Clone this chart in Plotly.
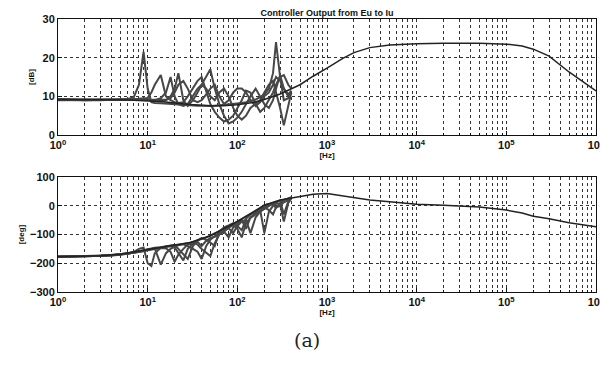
import plotly.graph_objects as go

# ---------------- data ----------------
f_model = [1, 2, 3, 5, 7, 10, 15, 20, 30, 50, 70, 100, 150, 200, 300, 500, 700,
           1e3, 1.5e3, 2e3, 3e3, 5e3, 1e4, 2e4, 5e4, 1e5, 1.5e5, 2e5, 3e5, 5e5, 7e5, 1e6]
mag_model = [9.2, 9.2, 9.2, 9.1, 9.0, 8.9, 8.6, 8.3, 7.9, 7.6, 7.6, 7.8, 8.4, 9.2, 10.6,
             13.0, 15.2, 17.3, 19.8, 21.3, 22.6, 23.3, 23.6, 23.7, 23.7, 23.5, 23.0, 22.2,
             20.4, 16.3, 13.9, 11.4]
phase_model = [-177, -176, -174, -169, -162, -152, -143, -137, -128, -104, -80, -55, -22,
               2, 20, 33, 40, 43, 35, 28, 20, 14, 5, 2, -4, -15, -25, -36, -45, -59, -66, -73]

f_meas = [1, 1.5, 2, 3, 4, 5, 6, 7, 8, 9, 10, 11, 12, 14, 16, 18, 20, 22, 25, 28,
          32, 36, 40, 45, 50, 56, 63, 71, 80, 90, 100, 112, 125, 140, 160, 180, 200,
          225, 250, 270, 300, 330, 370, 400]

mag_meas = [
    [9.3, 9.1, 9.0, 9.0, 9.1, 9.2, 9.3, 9.8, 13, 21.5, 12, 8.5, 8.3, 8.2, 8.1, 8.0, 7.9, 7.8,
     7.8, 7.7, 7.6, 7.6, 7.6, 7.5, 7.5, 7.6, 7.7, 7.8, 7.9, 8.0, 8.1, 8.3, 8.5, 8.8, 9.2, 9.8,
     10.5, 12, 16, 24, 15, 9, 9.5, 11],
    [9.2, 9.2, 9.1, 9.1, 9.2, 9.2, 9.3, 9.3, 9.4, 9.5, 9.6, 11, 13, 15.5, 10, 9, 8.5, 8.3, 8.5,
     10, 12, 14, 15, 11, 8, 6, 4.5, 3.5, 4, 5, 7, 9, 11.5, 11, 8, 6, 7, 9, 11, 13, 15, 15.5, 13, 12],
    [9.1, 9.0, 9.0, 9.1, 9.1, 9.2, 9.2, 9.3, 9.3, 9.4, 9.3, 9.0, 9.0, 9.5, 11, 15, 10, 8, 7.5,
     8, 10, 12, 13, 15, 17, 12, 8, 5, 3, 3.5, 4.5, 6, 8, 10, 12, 10, 8, 7, 9, 12, 15.5, 12, 10, 11],
    [9.0, 9.0, 9.0, 9.0, 9.0, 9.1, 9.1, 9.1, 9.2, 9.2, 9.1, 9.0, 9.0, 8.8, 9, 10, 12, 16, 9, 7.5,
     9, 11, 13, 12, 10, 9, 11, 12, 10, 7, 5, 4, 5, 7, 8, 9, 11, 13, 14, 11, 7, 2.5, 8, 11],
    [9.2, 9.1, 9.1, 9.1, 9.1, 9.1, 9.1, 9.1, 9.1, 9.1, 9.1, 9.1, 9.1, 9.1, 9.1, 9.5, 11, 13, 14,
     12, 9, 8.5, 9, 10.5, 12, 13, 10, 8, 9, 11, 12, 12, 11, 9, 7.5, 8.5, 10, 11, 13, 15, 14, 12,
     10.5, 11.5],
]

phase_meas = [
    [-177, -177, -176, -174, -172, -169, -166, -160, -150, -145, -200, -210, -165, -146, -142,
     -140, -137, -135, -132, -130, -126, -121, -116, -110, -104, -97, -89, -80, -72, -63, -55,
     -46, -37, -28, -18, -8, 2, 6, 4, -8, 8, 20, 26, 30],
    [-177, -176, -176, -174, -172, -169, -167, -163, -160, -157, -154, -152, -148, -205, -165,
     -150, -142, -137, -134, -140, -150, -160, -185, -140, -118, -105, -95, -90, -110, -75, -62,
     -50, -80, -40, -25, -15, -5, 5, 10, 14, 18, -30, 15, 28],
    [-178, -177, -176, -175, -173, -170, -167, -164, -161, -158, -155, -152, -150, -147, -148,
     -160, -195, -170, -150, -135, -128, -135, -150, -165, -175, -130, -100, -86, -78, -95, -70,
     -55, -48, -95, -40, -20, -10, 0, 8, 12, 16, 20, 24, 28],
    [-177, -177, -176, -174, -172, -170, -167, -163, -160, -156, -152, -150, -148, -145, -143,
     -141, -145, -165, -190, -150, -132, -126, -140, -122, -112, -108, -100, -90, -76, -68, -80,
     -110, -60, -42, -30, -15, -95, -20, 0, 8, 5, -55, 10, 25],
    [-176, -176, -175, -174, -172, -169, -166, -162, -158, -154, -150, -148, -146, -144, -141,
     -139, -136, -150, -170, -185, -140, -120, -112, -118, -128, -140, -90, -75, -68, -60, -70,
     -85, -45, -30, -22, -10, -5, -15, -30, -5, 0, 12, 20, 28],
]

x_tickvals = [1, 10, 100, 1e3, 1e4, 1e5, 1e6]
x_ticktext = ["10<sup>0</sup>", "10<sup>1</sup>", "10<sup>2</sup>", "10<sup>3</sup>",
              "10<sup>4</sup>", "10<sup>5</sup>", "10<sup>6</sup>"]
mag_ticks = [0, 10, 20, 30]
phase_ticks = [-300, -200, -100, 0, 100]

title_text = "Controller Output from Eu to Iu"
caption_text = "(a)"

# ---------------- figure ----------------
fig = go.Figure()
trace_col = "#474747"
for m in mag_meas:
    fig.add_trace(go.Scatter(x=f_meas, y=m, mode="lines", xaxis="x", yaxis="y",
                             line=dict(color=trace_col, width=2), showlegend=False))
fig.add_trace(go.Scatter(x=f_model, y=mag_model, mode="lines", xaxis="x", yaxis="y",
                         line=dict(color="#222222", width=1.5), showlegend=False))
for p in phase_meas:
    fig.add_trace(go.Scatter(x=f_meas, y=p, mode="lines", xaxis="x2", yaxis="y2",
                             line=dict(color=trace_col, width=2), showlegend=False))
fig.add_trace(go.Scatter(x=f_model, y=phase_model, mode="lines", xaxis="x2", yaxis="y2",
                         line=dict(color="#222222", width=1.5), showlegend=False))

font_ticks = dict(family="Liberation Sans", size=11, color="#111111", weight="bold")
lab_font = dict(family="Liberation Sans", size=8, color="#111", weight="bold")
xcommon = dict(type="log", range=[0, 6], tickvals=x_tickvals, ticktext=x_ticktext,
               showline=True, linecolor="#111", linewidth=1, mirror=True,
               ticks="inside", ticklen=4, tickcolor="#111",
               showgrid=True, gridcolor="#333", griddash="dot", gridwidth=1,
               minor=dict(dtick="D1", showgrid=True, gridcolor="#333", griddash="dot",
                          gridwidth=1, ticks="inside", ticklen=2, tickcolor="#111"),
               tickfont=font_ticks, zeroline=False, automargin=False)
ycommon = dict(showline=True, linecolor="#111", linewidth=1, mirror=True,
               ticks="inside", ticklen=4, tickcolor="#111",
               showgrid=True, gridcolor="#333", griddash="dot", gridwidth=1,
               tickfont=font_ticks, zeroline=False, automargin=False)

# page body has an 8px default margin, so the figure is sized/offset to compensate
fig.update_layout(
    width=600, height=362,
    margin=dict(l=50, r=12, t=11, b=78),
    paper_bgcolor="white", plot_bgcolor="white",
    xaxis=dict(xcommon, domain=[0, 1], anchor="y",
               title=dict(text="[Hz]", font=lab_font, standoff=0)),
    yaxis=dict(ycommon, domain=[0.575, 1], range=[0, 30], tickvals=mag_ticks,
               title=dict(text="[dB]", font=lab_font, standoff=6)),
    xaxis2=dict(xcommon, domain=[0, 1], anchor="y2",
                title=dict(text="[Hz]", font=lab_font, standoff=0)),
    yaxis2=dict(ycommon, domain=[0, 0.421], range=[-300, 100], tickvals=phase_ticks,
                title=dict(text="[deg]", font=lab_font, standoff=4)),
    title=dict(text=title_text, xref="paper", x=0.5, xanchor="center", y=0.995,
               yanchor="top", font=dict(family="Liberation Sans", size=9, color="#111",
                                        weight="bold")),
    annotations=[dict(text=caption_text, xref="paper", yref="paper", x=0.463, y=-0.176,
                      showarrow=False, xanchor="center", yanchor="middle",
                      font=dict(family="DejaVu Serif", size=19, color="#222"))],
)

fig.write_html("out.html")
